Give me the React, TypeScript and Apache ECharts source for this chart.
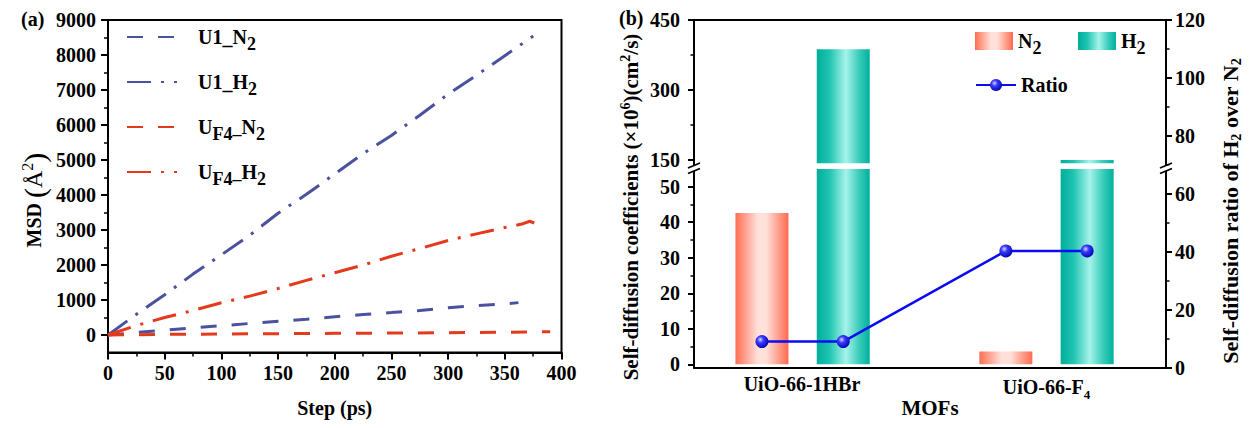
import React, { useEffect, useRef } from "react";
import * as echarts from "echarts";

const FONT = "'Liberation Serif', 'Times New Roman', Times, serif";

// ---------- Panel (a): MSD vs step ----------
const u1N2Step = [0, 25, 50, 75, 100, 125, 150, 175, 200, 225, 250, 275, 300, 325, 350, 362];
const u1N2Msd = [0, 70, 140, 205, 265, 330, 395, 450, 520, 585, 640, 700, 780, 840, 890, 925];

const u1H2Step = [0, 25, 50, 75, 100, 125, 150, 175, 200, 225, 250, 275, 300, 325, 350, 375];
const u1H2Msd = [0, 590, 1150, 1740, 2290, 2850, 3480, 4020, 4600, 5180, 5700, 6280, 6880, 7420, 7980, 8540];

const uf4N2Step = [0, 25, 50, 75, 100, 150, 200, 250, 300, 350, 390];
const uf4N2Msd = [0, 8, 18, 22, 28, 38, 48, 55, 65, 78, 95];

const uf4H2Step = [0, 25, 50, 75, 100, 125, 150, 175, 200, 225, 250, 275, 300, 325, 350, 365, 372, 376];
const uf4H2Msd = [0, 270, 500, 700, 920, 1110, 1330, 1560, 1780, 2000, 2250, 2470, 2700, 2890, 3070, 3170, 3250, 3200];

// ---------- Panel (b): self-diffusion ----------
const mofs = ["UiO-66-1HBr", "UiO-66-F4"];
const n2Diffusion = [42.6, 3.6];
const h2Diffusion = [387, 149];
const h2OverN2Ratio = [9.0, 40.3];

const BLUE = "#4A529F";
const RED = "#E4391B";

const pairs = (xs: number[], ys: number[]) => xs.map((x, i) => [x, ys[i]]);

export default function App() {
  const ref = useRef<HTMLDivElement>(null);

  useEffect(() => {
    document.body.style.margin = "0";
    const chart = echarts.init(ref.current!, null, { renderer: "svg" });

    // slots: N2, H2, (gap), N2, H2 ...
    const slotCount = mofs.length * 3 - 1;
    const slotCats = Array.from({ length: slotCount }, (_, k) => "s" + k);
    const n2Slots = slotCats.map((_, k) => (k % 3 === 0 ? n2Diffusion[k / 3] : "-"));
    const h2Slots = slotCats.map((_, k) => (k % 3 === 1 ? h2Diffusion[(k - 1) / 3] : "-"));
    const ratioSlots = slotCats.map((_, k) => (k % 3 === 2 ? "-" : h2OverN2Ratio[Math.floor(k / 3)]));

    const black = { color: "#000", width: 2 };
    const tickLabel = (margin: number) => ({
      show: true,
      fontFamily: FONT,
      fontWeight: "bold",
      fontSize: 20,
      color: "#000",
      margin,
      formatter: (v: number) => String(v),
    });
    const nameStyle = (size: number) => ({ fontFamily: FONT, fontWeight: "bold", fontSize: size, color: "#000" });
    const hiddenVal = (gridIndex: number, min: number, max: number) => ({
      type: "value",
      gridIndex,
      min,
      max,
      show: false,
      splitLine: { show: false },
    });
    const hiddenCat = (gridIndex: number) => ({
      type: "category",
      gridIndex,
      data: slotCats,
      show: false,
    });
    const lineOnly = (gridIndex: number, position: string) => ({
      type: "value",
      gridIndex,
      position,
      min: 0,
      max: 1,
      axisLine: { show: true, onZero: false, lineStyle: black },
      axisTick: { show: false },
      axisLabel: { show: false },
      splitLine: { show: false },
    });
    const ticksA = {
      axisTick: { show: true, length: 7, lineStyle: black },
      minorTick: { show: true, splitNumber: 2, length: 4, lineStyle: { color: "#000", width: 1.5 } },
      splitLine: { show: false },
      minorSplitLine: { show: false },
    };
    const ticksB = {
      axisTick: { show: true, length: 6, lineStyle: black },
      minorTick: { show: true, splitNumber: 2, length: 3.5, lineStyle: { color: "#000", width: 1.5 } },
      splitLine: { show: false },
      minorSplitLine: { show: false },
    };

    const mRich = { fontFamily: FONT, fontWeight: "bold", fontSize: 20, color: "#000" };
    const legendRich = {
      m: mRich,
      s: { fontFamily: FONT, fontWeight: "bold", fontSize: 18, color: "#000", padding: [14, 0, 0, 0] },
    };
    const legendText: Record<string, string> = {
      U1_N2: "{m|U1_N}{s|2}",
      U1_H2: "{m|U1_H}{s|2}",
      "UF4-N2": "{m|U}{s|F4–}{m|N}{s|2}",
      "UF4-H2": "{m|U}{s|F4–}{m|H}{s|2}",
      N2: "{m|N}{s|2}",
      H2: "{m|H}{s|2}",
      Ratio: "{m|Ratio}",
    };
    const mkLegend = (name: string, left: number, top: number, extra: any = {}) => ({
      data: [name],
      left,
      top,
      padding: 0,
      orient: "horizontal",
      selectedMode: false,
      formatter: (n: string) => legendText[n] || n,
      textStyle: { ...mRich, rich: legendRich, ...(extra.textStyle || {}) },
      ...extra.base,
    });
    const aLegend = (name: string, top: number) =>
      mkLegend(name, 126, top, {
        base: { itemWidth: 50, itemHeight: 14, itemStyle: { opacity: 0 } },
        textStyle: { padding: [0, 0, 0, 16] },
      });

    const n2Fill = new echarts.graphic.LinearGradient(0, 0, 1, 0, [
      { offset: 0, color: "#FF6D52" },
      { offset: 0.42, color: "#FFE1DA" },
      { offset: 0.58, color: "#FFE1DA" },
      { offset: 1, color: "#FF6A4F" },
    ]);
    const h2Fill = new echarts.graphic.LinearGradient(0, 0, 1, 0, [
      { offset: 0, color: "#00AE9A" },
      { offset: 0.25, color: "#22C5B2" },
      { offset: 0.55, color: "#A6F3EA" },
      { offset: 0.8, color: "#3ACCBB" },
      { offset: 1, color: "#00B09C" },
    ]);
    const ballFill = new echarts.graphic.RadialGradient(0.38, 0.35, 0.7, [
      { offset: 0, color: "#D6D6FF" },
      { offset: 0.35, color: "#3A3AFF" },
      { offset: 1, color: "#0000A8" },
    ]);

    const breakMarks = (ax: number) => [
      { type: "rect", z: 100, shape: { x: ax - 4, y: 165.5, width: 8, height: 5.5 }, style: { fill: "#fff" } },
      { type: "line", z: 101, shape: { x1: ax - 6, y1: 168, x2: ax + 6, y2: 163 }, style: { stroke: "#000", lineWidth: 1.8 } },
      { type: "line", z: 101, shape: { x1: ax - 6, y1: 173.5, x2: ax + 6, y2: 168.5 }, style: { stroke: "#000", lineWidth: 1.8 } },
    ];

    const option: any = {
      animation: false,
      backgroundColor: "#fff",
      grid: [
        { left: 108, top: 20, width: 453.5, height: 332.5, show: true, borderColor: "#000", borderWidth: 2, backgroundColor: "transparent", outerBoundsMode: "none" },
        { left: 108, top: 20, width: 453.5, height: 315, outerBoundsMode: "none" },
        { left: 694, top: 20, width: 472, height: 347.7, outerBoundsMode: "none" },
        { left: 694, top: 186.7, width: 472, height: 177.6, outerBoundsMode: "none" },
        { left: 694, top: 20, width: 472, height: 139.5, outerBoundsMode: "none" },
        { left: 721.3, top: 169, width: 406.5, height: 198.9, outerBoundsMode: "none" },
        { left: 721.3, top: 20, width: 406.5, height: 143.2, outerBoundsMode: "none" },
        { left: 721.3, top: 20, width: 406.5, height: 347.7, outerBoundsMode: "none" },
        { left: 679.75, top: 20, width: 489, height: 347.7, outerBoundsMode: "none" },
      ],
      xAxis: [
        {
          type: "value",
          gridIndex: 0,
          min: 0,
          max: 400,
          interval: 50,
          axisLine: { show: true, onZero: false, lineStyle: black },
          axisLabel: tickLabel(10),
          ...ticksA,
          name: "Step (ps)",
          nameLocation: "middle",
          nameGap: 45,
          nameTextStyle: nameStyle(20),
        },
        hiddenVal(1, 0, 400),
        { ...lineOnly(2, "bottom"), name: "MOFs", nameLocation: "middle", nameGap: 30, nameTextStyle: nameStyle(21) },
        lineOnly(2, "top"),
        hiddenVal(3, 0, 1),
        hiddenVal(4, 0, 1),
        hiddenCat(5),
        hiddenCat(6),
        hiddenCat(7),
        {
          type: "category",
          gridIndex: 8,
          data: mofs,
          axisLine: { show: false },
          axisTick: { show: false },
          splitLine: { show: false },
          axisLabel: {
            ...tickLabel(6),
            formatter: (v: string) => (v.endsWith("F4") ? "{m|" + v.slice(0, -1) + "}{s|4}" : "{m|" + v + "}"),
            rich: {
              m: mRich,
              s: { fontFamily: FONT, fontWeight: "bold", fontSize: 13, color: "#000", padding: [14, 0, 0, 0] },
            },
          },
        },
      ],
      yAxis: [
        hiddenVal(0, -500, 9000),
        {
          type: "value",
          gridIndex: 1,
          min: 0,
          max: 9000,
          interval: 1000,
          axisLine: { show: false },
          axisLabel: tickLabel(12),
          ...ticksA,
        },
        lineOnly(2, "left"),
        {
          type: "value",
          gridIndex: 2,
          position: "right",
          min: 0,
          max: 120,
          interval: 20,
          axisLine: { show: true, onZero: false, lineStyle: black },
          axisLabel: tickLabel(9),
          ...ticksB,
        },
        {
          type: "value",
          gridIndex: 3,
          min: 0,
          max: 50,
          interval: 10,
          axisLine: { show: false },
          axisLabel: tickLabel(14),
          ...ticksB,
        },
        {
          type: "value",
          gridIndex: 4,
          min: 150,
          max: 450,
          interval: 150,
          axisLine: { show: false },
          axisLabel: tickLabel(14),
          ...ticksB,
        },
        hiddenVal(5, -1, 55),
        hiddenVal(6, 142, 450),
        hiddenVal(7, 0, 120),
        hiddenVal(8, 0, 1),
      ],
      legend: [
        aLegend("U1_N2", 27),
        aLegend("U1_H2", 72),
        aLegend("UF4-N2", 117),
        aLegend("UF4-H2", 162),
        mkLegend("N2", 975, 31, { base: { icon: "rect", itemWidth: 38, itemHeight: 18 } }),
        mkLegend("H2", 1078, 31, { base: { icon: "rect", itemWidth: 38, itemHeight: 18 } }),
        mkLegend("Ratio", 975, 75, { base: { itemWidth: 40, itemHeight: 15 } }),
      ],
      series: [
        {
          name: "U1_N2",
          type: "line",
          xAxisIndex: 1,
          yAxisIndex: 1,
          data: pairs(u1N2Step, u1N2Msd),
          symbol: "none",
          clip: false,
          itemStyle: { color: BLUE },
          lineStyle: { color: BLUE, width: 3, type: [16, 15] },
        },
        {
          name: "U1_H2",
          type: "line",
          xAxisIndex: 1,
          yAxisIndex: 1,
          data: pairs(u1H2Step, u1H2Msd),
          symbol: "none",
          clip: false,
          itemStyle: { color: BLUE },
          lineStyle: { color: BLUE, width: 3, type: [24, 10, 3, 10] },
        },
        {
          name: "UF4-N2",
          type: "line",
          xAxisIndex: 1,
          yAxisIndex: 1,
          data: pairs(uf4N2Step, uf4N2Msd),
          symbol: "none",
          clip: false,
          itemStyle: { color: RED },
          lineStyle: { color: RED, width: 3, type: [16, 15] },
        },
        {
          name: "UF4-H2",
          type: "line",
          xAxisIndex: 1,
          yAxisIndex: 1,
          data: pairs(uf4H2Step, uf4H2Msd),
          symbol: "none",
          clip: false,
          itemStyle: { color: RED },
          lineStyle: { color: RED, width: 3, type: [24, 10, 3, 10] },
        },
        {
          name: "N2",
          type: "bar",
          xAxisIndex: 6,
          yAxisIndex: 6,
          data: n2Slots,
          barWidth: 53,
          barGap: "-100%",
          itemStyle: { color: n2Fill },
        },
        {
          name: "H2",
          type: "bar",
          xAxisIndex: 6,
          yAxisIndex: 6,
          data: h2Slots,
          barWidth: 53,
          barGap: "-100%",
          itemStyle: { color: h2Fill },
        },
        {
          name: "H2",
          type: "bar",
          xAxisIndex: 7,
          yAxisIndex: 7,
          data: h2Slots,
          barWidth: 53,
          barGap: "-100%",
          itemStyle: { color: h2Fill },
        },
        {
          name: "Ratio",
          type: "line",
          xAxisIndex: 8,
          yAxisIndex: 8,
          data: ratioSlots,
          connectNulls: true,
          symbol: "circle",
          symbolSize: 13,
          z: 5,
          itemStyle: { color: ballFill },
          lineStyle: { color: "#0A0AF5", width: 2.5 },
        },
      ],
      graphic: [
        { type: "text", x: 21, y: 9, z: 100, style: { text: "(a)", fontFamily: FONT, fontWeight: "bold", fontSize: 20, fill: "#000" } },
        { type: "text", x: 619, y: 8, z: 100, style: { text: "(b)", fontFamily: FONT, fontWeight: "bold", fontSize: 20, fill: "#000" } },
        {
          type: "text",
          x: 34,
          y: 200,
          rotation: Math.PI / 2,
          z: 100,
          style: {
            text: "{m|MSD }{p|(}{a|Å}{u|2}{p|)}",
            align: "center",
            verticalAlign: "middle",
            fill: "#000",
            rich: {
              m: { fontFamily: FONT, fontWeight: "bold", fontSize: 20, fill: "#000" },
              p: { fontFamily: FONT, fontWeight: "normal", fontSize: 30, fill: "#000" },
              a: { fontFamily: FONT, fontWeight: "normal", fontSize: 24, fill: "#000" },
              u: { fontFamily: FONT, fontWeight: "normal", fontSize: 16, fill: "#000", padding: [0, 0, 14, 0] },
            },
          },
        },
        {
          type: "text",
          x: 631,
          y: 207,
          rotation: Math.PI / 2,
          z: 100,
          style: {
            text: "{t|Self-diffusion coefficients (×10}{u|6}{t|)(cm}{u|2}{t|/s)}",
            align: "center",
            verticalAlign: "middle",
            fill: "#000",
            rich: {
              t: { fontFamily: FONT, fontWeight: "bold", fontSize: 21, fill: "#000" },
              u: { fontFamily: FONT, fontWeight: "bold", fontSize: 14, fill: "#000", padding: [0, 0, 12, 0] },
            },
          },
        },
        {
          type: "text",
          x: 1230,
          y: 211,
          rotation: Math.PI / 2,
          z: 100,
          style: {
            text: "{t|Self-diffusion ratio of H}{d|2}{t| over N}{d|2}",
            align: "center",
            verticalAlign: "middle",
            fill: "#000",
            rich: {
              t: { fontFamily: FONT, fontWeight: "bold", fontSize: 22, fill: "#000" },
              d: { fontFamily: FONT, fontWeight: "bold", fontSize: 14, fill: "#000", padding: [12, 0, 0, 0] },
            },
          },
        },
        ...breakMarks(694),
        ...breakMarks(1166),
      ],
    };

    chart.setOption(option);
    return () => chart.dispose();
  }, []);

  return <div ref={ref} style={{ position: "absolute", left: 0, top: 0, width: 1251, height: 428 }} />;
}
